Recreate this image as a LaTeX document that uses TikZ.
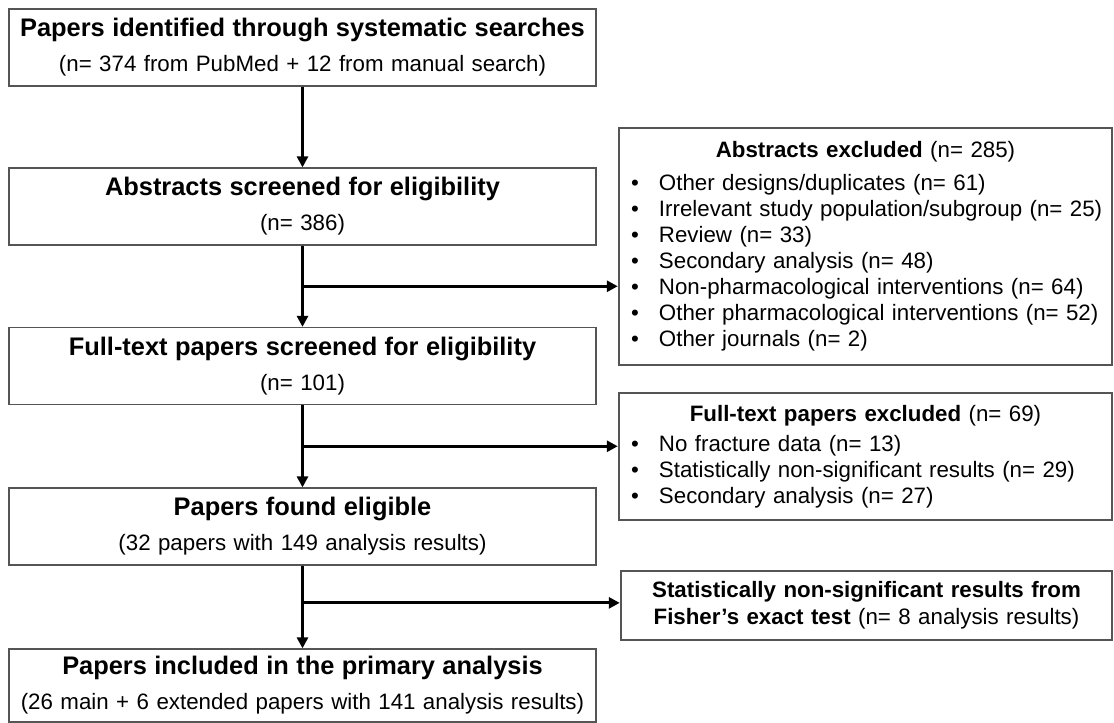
\documentclass[tikz,border=0pt]{standalone}
\usepackage{fontspec}
\setmainfont{Liberation Sans}
\usetikzlibrary{arrows.meta,calc}
\definecolor{boxgray}{RGB}{85,85,85}
\newcommand\bodyf{\fontsize{22.3}{35}\selectfont}
\newcommand\titf{\fontsize{25.4}{35}\selectfont\bfseries}
\newcommand\listf{\fontsize{22.3}{26}\selectfont}
\newcommand\bul{\hspace*{12pt}\makebox[28pt][l]{\textbullet}}
\begin{document}
\begin{tikzpicture}[x=1pt,y=-1pt,
  box/.style={draw=boxgray, line width=1.3pt, inner sep=0pt, fill=white},
  lbox/.style={box, minimum width=587pt, minimum height=77pt, text width=587pt, align=center, font=\bodyf},
  rbox/.style={box, minimum width=493pt, text width=493pt, align=left, font=\listf},
  arr/.style={line width=2.9pt, -{Triangle[length=11pt,width=11pt]}},
  branch/.style={line width=2.9pt, -{Triangle[length=11pt,width=11pt]}, shorten >=0.6pt},
]
\useasboundingbox (0,0) rectangle (1114,723);

% left column
\node[lbox] (b1) at (302.5,47.5) {{\titf Papers identified through systematic searches}\\(n= 374 from PubMed + 12 from manual search)};
\node[lbox] (b2) at (302.5,206.5) {{\titf Abstracts screened for eligibility}\\(n= 386)};
\node[lbox] (b3) at (302.5,366) {{\titf Full-text papers screened for eligibility}\\(n= 101)};
\node[lbox] (b4) at (302.5,526.5) {{\titf Papers found eligible}\\(32 papers with 149 analysis results)};
\node[lbox, minimum height=73pt] (b5) at (302.5,685.5) {{\titf Papers included in the primary analysis}\\(26 main + 6 extended papers with 141 analysis results)};

% right column
\node[rbox, minimum height=237pt] (exA) at (865.5,246.5) {%
\makebox[493pt]{\textbf{Abstracts excluded} (n= 285)}\\[7pt]
\bul Other designs/duplicates (n= 61)\\
\bul Irrelevant study population/subgroup (n= 25)\\
\bul Review (n= 33)\\
\bul Secondary analysis (n= 48)\\
\bul Non-pharmacological interventions (n= 64)\\
\bul Other pharmacological interventions (n= 52)\\
\bul Other journals (n= 2)};

\node[rbox, minimum height=127pt] (exB) at (865.5,456.5) {%
\makebox[493pt]{\textbf{Full-text papers excluded} (n= 69)}\\[4pt]
\bul No fracture data (n= 13)\\
\bul Statistically non-significant results (n= 29)\\
\bul Secondary analysis (n= 27)};

\node[box, minimum width=491pt, text width=491pt, minimum height=69pt, align=center, font=\fontsize{22.3}{27}\selectfont] (exC) at (866.5,605.5) {%
\textbf{Statistically non-significant results from}\\\textbf{Fisher’s exact test} (n= 8 analysis results)};

% connectors
\coordinate (j1) at ($(b2.south)!0.5!(b3.north)$);
\coordinate (j2) at ($(b3.south)!0.5!(b4.north)$);
\coordinate (j3) at ($(b4.south)!0.45!(b5.north)$);

\draw[arr] (b1.south) -- (b2.north);
\draw[arr] (b2.south) -- (b3.north);
\draw[arr] (b3.south) -- (b4.north);
\draw[arr] (b4.south) -- (b5.north);

\draw[branch] (j1) -- (j1 -| exA.west);
\draw[branch] (j2) -- (j2 -| exB.west);
\draw[branch] (j3) -- (j3 -| exC.west);
\end{tikzpicture}
\end{document}
